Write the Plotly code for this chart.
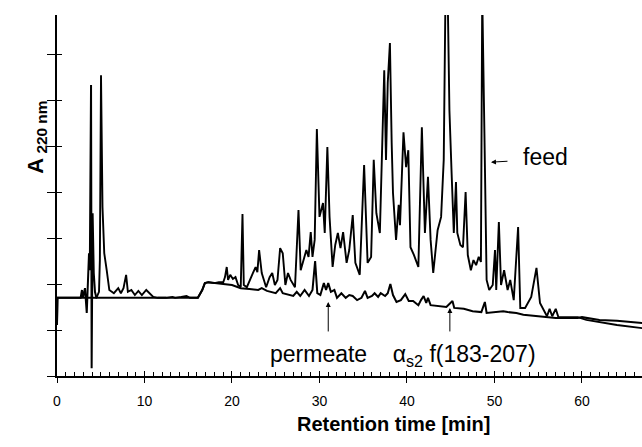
import plotly.graph_objects as go

# ---- data (retention time in min, absorbance in arbitrary units) ----
feed_t = [0.0, 0.05, 4.5, 4.8, 4.9, 5.03, 5.2, 5.4, 5.68, 5.98, 6.5, 7.0, 7.3, 7.6, 7.9, 8.1, 8.5, 8.9, 9.3, 9.7,
          10.2, 10.6, 11.0, 11.5, 12.5, 13.2, 13.5, 14.2, 14.8, 15.2, 16.1, 16.6, 16.9, 17.3, 18.0, 18.5, 19.0,
          19.2, 19.4, 19.55, 19.8, 20.1, 20.4, 20.7, 21.0, 21.2, 21.35, 21.7, 22.1, 22.4, 22.7, 22.9, 23.1, 23.4,
          23.9, 24.3, 24.6, 24.9, 25.2, 25.5, 25.8, 26.1, 26.4, 26.7, 27.2, 27.6, 27.85, 28.2, 28.5, 28.75, 29.0,
          29.2, 29.45, 29.7, 30.0, 30.4, 30.6, 30.9, 31.15, 31.5, 31.8, 32.1, 32.4, 32.7, 33.1, 33.4, 33.8, 34.1,
          34.6, 35.1, 35.5, 35.9, 36.2, 36.5, 36.9, 37.4, 37.6, 37.8, 38.05, 38.25, 38.4, 38.75, 39.05, 39.2,
          39.6, 39.9, 40.15, 40.4, 40.8, 41.3, 41.7, 42.05, 42.4, 42.7, 43.0, 43.5, 43.9, 44.2, 44.4, 44.65,
          44.85, 45.1, 45.35, 45.6, 45.75, 46.1, 46.4, 46.7, 46.95, 47.3, 47.6, 47.9, 48.2, 48.45, 48.6, 48.85,
          48.95, 49.1, 49.4, 49.8, 50.06, 50.2, 50.5, 50.75, 51.1, 51.5, 51.8, 52.2, 52.7, 52.95, 53.5, 54.2,
          54.8, 55.2, 56.0, 56.3, 56.6, 57.0, 57.3, 58.0, 59.5, 60.5, 62.0, 64.0, 66.9]
feed_a = [1.11, 1.70, 1.70, 1.83, 2.52, 6.54, 3.67, 2.67, 2.30, 1.87, 1.80, 1.91, 1.80, 1.91, 2.20, 1.83, 1.87, 1.76, 1.85, 1.76,
          1.87, 1.80, 1.72, 1.70, 1.70, 1.72, 1.70, 1.72, 1.74, 1.70, 1.70, 1.87, 2.02, 2.04, 2.02, 2.04, 2.04,
          2.15, 2.37, 2.09, 2.20, 2.11, 2.15, 1.98, 1.93, 3.52, 1.98, 1.93, 2.09, 2.24, 2.37, 2.26, 2.74, 2.24,
          1.93, 2.15, 2.24, 1.98, 2.09, 2.78, 2.67, 1.98, 2.24, 2.09, 1.93, 3.61, 2.30, 2.52, 2.74, 2.59, 3.13,
          2.59, 2.96, 5.37, 3.46, 3.76, 3.11, 4.98, 3.46, 2.37, 2.85, 3.11, 2.78, 3.13, 2.46, 2.74, 3.50, 2.46,
          2.20, 4.59, 2.46, 2.59, 4.70, 3.54, 3.11, 6.65, 4.70, 6.37, 7.24, 5.07, 3.98, 2.96, 3.72, 3.28,
          5.30, 4.54, 4.91, 2.80, 2.63, 2.37, 5.41, 3.11, 4.33, 2.96, 2.24, 3.17, 3.46, 4.70, 8.30, 8.30,
          5.78, 4.41, 3.11, 4.22, 3.11, 2.85, 2.80, 4.00, 2.63, 2.30, 2.52, 2.41, 2.59, 2.48, 8.30, 5.28,
          4.26, 2.09, 1.87, 1.98, 2.74, 1.87, 3.35, 1.98, 2.30, 1.87, 2.09, 1.65, 3.24, 1.48, 1.48, 1.72,
          2.35, 1.59, 1.30, 1.46, 1.30, 1.46, 1.28, 1.28, 1.28, 1.22, 1.17, 1.11, 1.04]

perm_t = [0.0, 0.05, 2.7, 2.85, 2.95, 3.2, 3.4, 3.55, 3.66, 3.75, 3.89, 3.96, 4.07, 4.2, 4.34, 4.5, 16.1, 16.6,
          16.9, 17.3, 18.0, 19.0, 20.0, 21.0, 22.0, 23.0, 23.4, 24.0, 25.0, 25.5, 25.8, 27.0, 27.4, 27.8, 28.3,
          28.8, 29.2, 29.5, 29.75, 30.1, 30.5, 30.75, 31.0, 31.3, 31.7, 32.0, 32.5, 33.0, 33.4, 33.8, 34.3, 34.8,
          35.2, 35.5, 36.0, 36.3, 36.7, 37.0, 37.5, 37.8, 38.1, 38.4, 38.8, 39.3, 39.8, 40.2, 40.7, 41.3, 41.6,
          41.9, 42.2, 42.4, 42.7, 43.5, 44.5, 45.2, 45.4, 46.5, 47.5, 48.5, 48.9, 49.1, 50.0, 51.0, 51.5, 52.5,
          53.3, 55.0, 57.0, 59.5, 60.0, 62.0, 64.0, 66.9]
perm_a = [1.11, 1.70, 1.70, 1.87, 1.70, 1.91, 1.37, 2.15, 2.67, 2.30, 6.33, 0.17, 3.54, 2.24, 1.83, 1.70, 1.70, 1.87,
          2.02, 2.04, 2.02, 2.00, 1.98, 1.91, 1.89, 1.87, 1.91, 1.85, 1.80, 1.91, 1.80, 1.74, 1.83, 1.74, 1.87,
          1.74, 1.87, 2.50, 1.80, 1.76, 2.02, 1.87, 2.02, 1.83, 1.87, 1.70, 1.80, 1.70, 1.76, 1.74, 1.65, 1.70,
          1.85, 1.70, 1.74, 1.80, 1.72, 1.80, 1.74, 1.80, 2.00, 1.76, 1.61, 1.65, 1.78, 1.63, 1.63, 1.54, 1.65,
          1.74, 1.59, 1.70, 1.54, 1.52, 1.50, 1.63, 1.48, 1.46, 1.41, 1.39, 1.61, 1.37, 1.39, 1.41, 1.39, 1.37,
          1.33, 1.30, 1.26, 1.26, 1.28, 1.22, 1.20, 1.15]

x_ticks = [0, 10, 20, 30, 40, 50, 60]
x_range = [0, 66.86]
y_range = [0, 7.85]
FONT = "Arial, Liberation Sans, sans-serif"

fig = go.Figure()
fig.add_trace(go.Scatter(x=feed_t, y=feed_a, mode="lines", name="feed",
                         line=dict(color="black", width=1.9), showlegend=False))
fig.add_trace(go.Scatter(x=perm_t, y=perm_a, mode="lines", name="permeate",
                         line=dict(color="black", width=2.0), showlegend=False))
# helper trace for the overlay axes that draw the inner halves of the crossing ticks
fig.add_trace(go.Scatter(x=feed_t[:1], y=feed_a[:1], xaxis="x2", yaxis="y2", mode="markers",
                         marker=dict(opacity=0), hoverinfo="skip", showlegend=False))

fig.update_layout(
    width=642, height=447,
    margin=dict(l=57, r=0, t=15, b=71),
    paper_bgcolor="white", plot_bgcolor="white",
    font=dict(family=FONT, color="black"),
    xaxis=dict(range=x_range, tickvals=x_ticks, ticks="outside", ticklen=5, tickwidth=1.2,
               tickcolor="black", showline=True, linecolor="black", linewidth=1.5,
               showgrid=False, zeroline=False, tickfont=dict(size=14, family=FONT),
               ticklabelstandoff=6),
    yaxis=dict(range=y_range, dtick=1, tick0=0, ticks="outside", ticklen=8, tickwidth=1.2,
               tickcolor="black", showline=True, linecolor="black", linewidth=1.5,
               showgrid=False, zeroline=False, showticklabels=False),
    xaxis2=dict(range=x_range, overlaying="x", matches="x", tickvals=x_ticks, ticks="inside",
                ticklen=5, tickwidth=1.2, tickcolor="black", showticklabels=False,
                showline=False, showgrid=False, zeroline=False,
                minor=dict(dtick=1, tick0=0, ticks="inside", ticklen=4, tickwidth=1, tickcolor="black")),
    yaxis2=dict(range=y_range, overlaying="y", matches="y", dtick=1, tick0=0, ticks="inside",
                ticklen=5, tickwidth=1.2, tickcolor="black", showticklabels=False,
                showline=False, showgrid=False, zeroline=False),
)

annos = [
    # axis titles
    dict(text="<b>A<sub> 220 nm</sub></b>", xref="paper", yref="paper", x=-0.062, y=0.662,
         textangle=-90, showarrow=False, font=dict(size=22, family=FONT)),
    dict(text="<b>Retention time [min]</b>", xref="paper", yref="paper", x=0.744, y=-0.169,
         showarrow=False, font=dict(size=20, family=FONT)),
    # feed label and arrow
    dict(text="feed", x=53.0, y=4.76, xanchor="left", yanchor="middle", showarrow=False,
         font=dict(size=23, family=FONT)),
    dict(text="", x=49.6, y=4.65, ax=18, ay=-1, showarrow=True, arrowhead=2, arrowsize=1,
         arrowwidth=1, arrowcolor="black"),
    # permeate label and arrows
    dict(text="permeate\u00a0\u00a0\u00a0\u00a0α<sub>s2</sub> f(183-207)", x=24.1, y=0.44,
         xanchor="left", yanchor="middle", showarrow=False, font=dict(size=23, family=FONT)),
    dict(text="", x=31.0, y=1.61, ax=0, ay=31, showarrow=True, arrowhead=2, arrowsize=1,
         arrowwidth=1, arrowcolor="black"),
    dict(text="", x=44.9, y=1.48, ax=0, ay=25, showarrow=True, arrowhead=2, arrowsize=1,
         arrowwidth=1, arrowcolor="black"),
]
fig.update_layout(annotations=annos)

fig.write_html("out.html")
